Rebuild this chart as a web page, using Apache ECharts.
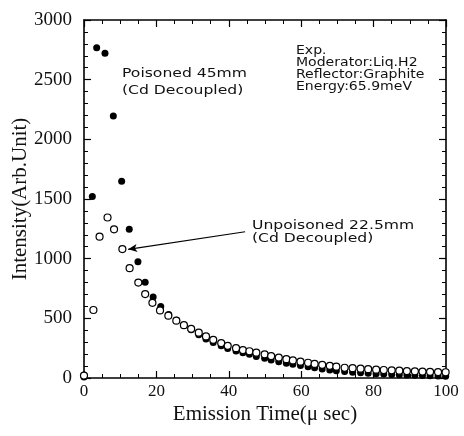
<!DOCTYPE html>
<html>
<head>
<meta charset="utf-8">
<script src="https://cdn.jsdelivr.net/npm/echarts@6/dist/echarts.min.js"></script>
<style>
  html, body { margin: 0; padding: 0; background: #fff; }
  #chart { width: 464px; height: 436px; }
</style>
</head>
<body>
<div id="chart"></div>
<script>
// Emission time (µs) and intensity for the poisoned 45 mm moderator (filled dots)
const poisonedTime = [0, 2.3, 3.5, 5.8, 8.1, 10.4, 12.5, 14.9, 16.9, 19.1, 21.2, 23.4, 25.6, 27.6, 29.6,
  31.7, 33.7, 35.7, 37.9, 39.7, 42.0, 43.9, 45.7, 47.6, 49.9, 51.7, 53.8, 55.9, 57.7, 59.8,
  61.9, 63.7, 65.8, 67.9, 69.7, 72.0, 74.2, 76.4, 78.5, 80.7, 82.8, 85.0, 87.1, 89.2, 91.4,
  93.5, 95.6, 97.8, 99.9];
const poisonedIntensity = [8, 1520, 2768, 2721, 2196, 1648, 1246, 975, 802, 679, 600, 533, 483, 440, 405,
  362, 326, 298, 270, 248, 226, 212, 198, 180, 165, 151, 137, 124, 115, 104,
  95, 86, 76, 68, 61, 54, 48, 44, 40, 36, 33, 30, 27, 25, 22,
  20, 18, 16, 15];

// Emission time (µs) and intensity for the unpoisoned 22.5 mm moderator (open circles)
const unpoisonedTime = [0, 2.6, 4.3, 6.5, 8.3, 10.6, 12.6, 15.0, 16.9, 18.9, 21.0, 23.3, 25.5, 27.6, 29.6,
  31.7, 33.7, 35.7, 37.9, 39.7, 42.0, 43.9, 45.7, 47.6, 49.9, 51.7, 53.8, 55.9, 57.7, 59.8,
  61.9, 63.7, 65.8, 67.9, 69.7, 72.0, 74.2, 76.4, 78.5, 80.7, 82.8, 85.0, 87.1, 89.2, 91.4,
  93.5, 95.6, 97.8, 99.9];
const unpoisonedIntensity = [20, 570, 1184, 1345, 1246, 1080, 920, 800, 703, 630, 566, 522, 480, 443, 412,
  380, 348, 320, 293, 270, 250, 234, 224, 212, 198, 184, 171, 158, 147, 137,
  128, 118, 110, 102, 95, 86, 82, 78, 74, 70, 67, 64, 61, 58, 56,
  54, 52, 50, 48];

// Axis ranges and tick spacing
const timeRange = [0, 100];
const timeStep = 20;
const intensityRange = [0, 3000];
const intensityStep = 500;

// Arrow from the label to the highlighted unpoisoned point (data coordinates)
const arrowFrom = [44.5, 1226];
const arrowTo = [12.2, 1078];

const pairs = (xs, ys) => xs.map((x, i) => [x, ys[i]]);
const plain = v => String(v);

const serif = '"Liberation Serif", "DejaVu Serif", serif';
const sans = '"DejaVu Sans", "Liberation Sans", sans-serif';

const boxAxis = {
  axisLine: { show: true, onZero: false, lineStyle: { color: '#000', width: 1.6 } },
  axisTick: { show: true, inside: true, length: 7, lineStyle: { color: '#000', width: 1.2 } },
  minorTick: { show: true, length: 4, lineStyle: { color: '#000', width: 1 } },
  splitLine: { show: false },
  minorSplitLine: { show: false }
};

const chart = echarts.init(document.getElementById('chart'), null, { renderer: 'canvas' });

chart.setOption({
  animation: false,
  backgroundColor: '#fff',
  grid: { left: 84, right: 18, top: 20, bottom: 58, containLabel: false, outerBoundsMode: 'none' },
  xAxis: [
    Object.assign({}, boxAxis, {
      type: 'value', position: 'bottom',
      min: timeRange[0], max: timeRange[1], interval: timeStep,
      minorTick: Object.assign({}, boxAxis.minorTick, { splitNumber: 4 }),
      axisLabel: { color: '#111', fontFamily: serif, fontSize: 17, margin: 5, formatter: plain },
      name: 'Emission Time(\u03bc sec)', nameLocation: 'middle', nameGap: 26,
      nameMoveOverlap: false,
      nameTextStyle: { color: '#111', fontFamily: serif, fontSize: 21 }
    }),
    Object.assign({}, boxAxis, {
      type: 'value', position: 'top',
      min: timeRange[0], max: timeRange[1], interval: timeStep,
      minorTick: Object.assign({}, boxAxis.minorTick, { splitNumber: 4 }),
      axisLabel: { show: false }
    })
  ],
  yAxis: [
    Object.assign({}, boxAxis, {
      type: 'value', position: 'left',
      min: intensityRange[0], max: intensityRange[1], interval: intensityStep,
      minorTick: Object.assign({}, boxAxis.minorTick, { splitNumber: 5 }),
      axisLabel: { color: '#111', fontFamily: serif, fontSize: 19, margin: 12, formatter: plain },
      name: 'Intensity(Arb.Unit)', nameLocation: 'middle', nameGap: 53,
      nameMoveOverlap: false,
      nameTextStyle: { color: '#111', fontFamily: serif, fontSize: 21 }
    }),
    Object.assign({}, boxAxis, {
      type: 'value', position: 'right',
      min: intensityRange[0], max: intensityRange[1], interval: intensityStep,
      minorTick: Object.assign({}, boxAxis.minorTick, { splitNumber: 5 }),
      axisLabel: { show: false }
    })
  ],
  series: [
    {
      name: 'Poisoned 45mm',
      type: 'scatter',
      data: pairs(poisonedTime, poisonedIntensity),
      symbol: 'circle',
      symbolSize: 7,
      itemStyle: { color: '#000', opacity: 1 },
      z: 2
    },
    {
      name: 'Unpoisoned 22.5mm',
      type: 'scatter',
      data: pairs(unpoisonedTime, unpoisonedIntensity),
      symbol: 'circle',
      symbolSize: 7,
      itemStyle: { color: '#fff', borderColor: '#000', borderWidth: 1.2, opacity: 1 },
      z: 3,
      markLine: {
        silent: true,
        animation: false,
        symbolSize: [6, 9],
        lineStyle: { color: '#000', width: 1.1, type: 'solid' },
        label: { show: false },
        data: [[
          { coord: arrowFrom, symbol: 'none' },
          { coord: arrowTo, symbol: 'arrow' }
        ]]
      }
    }
  ],
  graphic: [
    {
      type: 'text', x: 122, y: 65, scaleX: 1.2,
      style: {
        text: 'Poisoned 45mm\n(Cd Decoupled)',
        font: '13px ' + sans, fill: '#111', lineHeight: 17,
        textVerticalAlign: 'top'
      }
    },
    {
      type: 'text', x: 252, y: 219, scaleX: 1.2,
      style: {
        text: 'Unpoisoned 22.5mm\n(Cd Decoupled)',
        font: '13px ' + sans, fill: '#111', lineHeight: 13,
        textVerticalAlign: 'top'
      }
    },
    {
      type: 'text', x: 296, y: 45, scaleX: 1.17,
      style: {
        text: 'Exp.\nModerator:Liq.H2\nReflector:Graphite\nEnergy:65.9meV',
        font: '12px ' + sans, fill: '#111', lineHeight: 12,
        textVerticalAlign: 'top'
      }
    }
  ]
});
</script>
</body>
</html>
